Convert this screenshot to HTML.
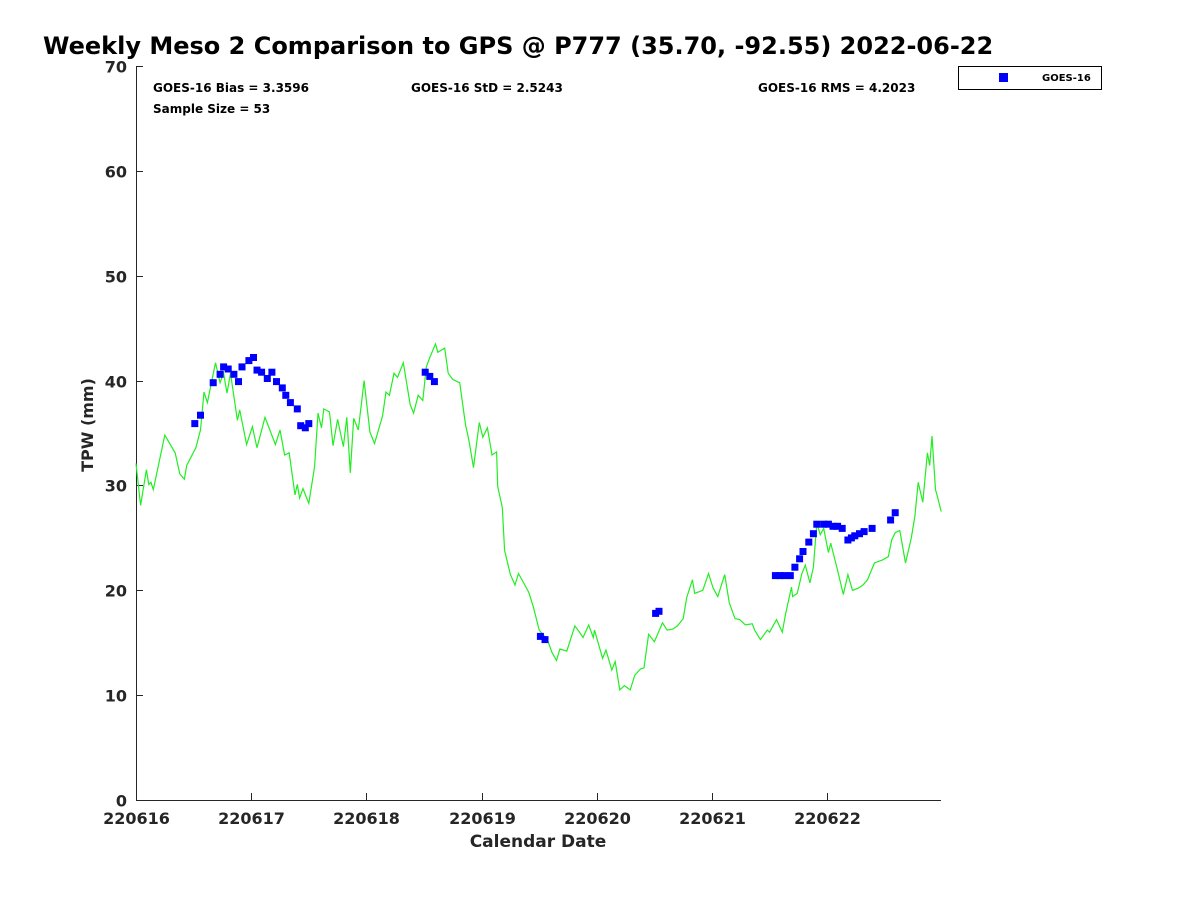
<!DOCTYPE html>
<html><head><meta charset="utf-8"><style>
body{margin:0;background:#fff;}
svg{display:block;font-family:"DejaVu Sans","Liberation Sans",sans-serif;}
</style></head><body>
<svg id="chart" width="1200" height="900" viewBox="0 0 1200 900">
<text x="43" y="54" font-size="24" font-weight="bold">Weekly Meso 2 Comparison to GPS @ P777 (35.70, -92.55) 2022-06-22</text>
<text x="153" y="92" font-size="12" font-weight="bold">GOES-16 Bias = 3.3596</text>
<text x="411" y="92" font-size="12" font-weight="bold">GOES-16 StD = 2.5243</text>
<text x="758" y="92" font-size="12" font-weight="bold">GOES-16 RMS = 4.2023</text>
<text x="153" y="113" font-size="12" font-weight="bold">Sample Size = 53</text>
<g>
<rect x="958.5" y="66.5" width="143" height="23" fill="#fff" stroke="#000" stroke-width="1"/>
<rect x="999" y="73" width="9" height="9" fill="#0000ff"/>
<text x="1042" y="81" font-size="10" font-weight="bold">GOES-16</text>
</g>
<text transform="translate(93,425) rotate(-90)" text-anchor="middle" font-size="16" font-weight="bold" fill="#262626">TPW (mm)</text>
<text x="538" y="847" text-anchor="middle" font-size="17" font-weight="bold" fill="#262626">Calendar Date</text>
<g id="axes"></g>
<g id="plot"></g>
</svg>
<script>
const xTickLabels=["220616","220617","220618","220619","220620","220621","220622"];
const yTickLabels=[0,10,20,30,40,50,60,70];
const gpsDays=[0,0.04,0.09,0.11,0.13,0.15,0.25,0.34,0.38,0.42,0.44,0.52,0.56,0.59,0.62,0.69,0.73,0.76,0.79,0.82,0.88,0.90,0.96,1.01,1.05,1.12,1.21,1.25,1.29,1.33,1.38,1.40,1.42,1.45,1.50,1.55,1.58,1.61,1.63,1.68,1.71,1.75,1.80,1.83,1.86,1.89,1.93,1.98,2.03,2.07,2.14,2.17,2.20,2.24,2.27,2.32,2.38,2.41,2.45,2.49,2.52,2.55,2.60,2.62,2.68,2.71,2.75,2.81,2.86,2.89,2.93,2.98,3.01,3.05,3.09,3.13,3.14,3.18,3.20,3.25,3.29,3.32,3.41,3.45,3.50,3.57,3.61,3.65,3.68,3.74,3.81,3.85,3.88,3.93,3.97,3.98,4.05,4.08,4.13,4.16,4.20,4.24,4.29,4.33,4.38,4.41,4.45,4.50,4.57,4.61,4.66,4.70,4.75,4.78,4.83,4.85,4.92,4.97,5.01,5.05,5.11,5.15,5.20,5.24,5.29,5.35,5.37,5.42,5.48,5.50,5.56,5.61,5.64,5.69,5.70,5.74,5.78,5.81,5.85,5.88,5.91,5.94,5.97,6.01,6.03,6.09,6.14,6.18,6.22,6.27,6.31,6.35,6.41,6.48,6.53,6.56,6.59,6.63,6.68,6.73,6.76,6.79,6.83,6.87,6.89,6.91,6.94,6.96,6.99];
const gpsTPW=[32.1,28.1,31.5,30.1,30.3,29.6,34.8,33.1,31.1,30.6,31.9,33.6,35.3,38.9,37.9,41.7,39.8,40.7,38.8,40.7,36.2,37.2,33.9,35.6,33.6,36.5,33.9,35.3,32.9,33.1,29.1,30.1,28.8,29.7,28.3,31.8,36.9,35.5,37.3,37.0,33.8,36.3,33.7,36.5,31.2,36.4,35.3,40.0,35.1,34.0,36.6,38.9,38.6,40.7,40.3,41.7,37.7,36.9,38.6,38.1,41.3,42.2,43.5,42.7,43.1,40.7,40.1,39.8,35.8,34.3,31.7,36.0,34.6,35.5,32.9,33.2,29.9,27.9,23.8,21.5,20.5,21.6,19.8,18.4,16.2,15.3,14.1,13.3,14.4,14.2,16.6,16.0,15.5,16.7,15.5,16.2,13.5,14.3,12.4,13.2,10.5,10.9,10.5,11.9,12.5,12.6,15.8,15.1,16.9,16.2,16.3,16.6,17.3,19.3,21.0,19.7,20.0,21.6,20.2,19.4,21.5,18.8,17.3,17.2,16.7,16.8,16.2,15.3,16.2,16.0,17.2,16.0,17.8,20.3,19.4,19.7,21.6,22.4,20.7,22.2,26.4,25.3,25.9,23.6,24.5,21.9,19.6,21.5,20.0,20.2,20.5,21.0,22.6,22.9,23.2,24.8,25.5,25.7,22.6,25.0,27.0,30.3,28.4,33.1,31.9,34.7,29.6,28.8,27.5];
const goesDays=[0.51,0.56,0.67,0.73,0.76,0.80,0.85,0.89,0.92,0.98,1.02,1.05,1.09,1.14,1.18,1.22,1.27,1.30,1.34,1.40,1.43,1.47,1.50,2.51,2.55,2.59,3.51,3.55,4.51,4.54,5.55,5.59,5.63,5.68,5.72,5.76,5.79,5.84,5.88,5.91,5.97,6.01,6.05,6.09,6.13,6.18,6.21,6.24,6.28,6.32,6.39,6.55,6.59];
const goesTPW=[35.9,36.7,39.8,40.6,41.3,41.1,40.6,39.9,41.3,41.9,42.2,41.0,40.8,40.2,40.8,39.9,39.3,38.6,37.9,37.3,35.7,35.5,35.9,40.8,40.4,39.9,15.6,15.3,17.8,18.0,21.4,21.4,21.4,21.4,22.2,23.0,23.7,24.6,25.4,26.3,26.3,26.3,26.1,26.1,25.9,24.8,25.0,25.2,25.4,25.6,25.9,26.7,27.4];

const X0=136,X1=941,Y0=800,Y1=66,YMAX=70;
const sx=d=>X0+d*115.2;
const sy=v=>Y0-(v/YMAX)*(Y0-Y1);
const NS="http://www.w3.org/2000/svg";
const axes=document.getElementById('axes'),plot=document.getElementById('plot');
function mk(tag,attrs,parent){const e=document.createElementNS(NS,tag);for(const k in attrs)e.setAttribute(k,attrs[k]);parent.appendChild(e);return e;}

const ax=mk('path',{d:`M${X0+0.5},${Y1} V${Y0+0.5} H${X1}`,stroke:'#262626','stroke-width':1,fill:'none'},axes);


xTickLabels.forEach((lab,i)=>{
  const x=Math.round(sx(i))+0.5;
  const t=mk('line',{x1:x,x2:x,y1:Y0,y2:Y0-7,stroke:'#262626'},axes);
  
  
  const tx=mk('text',{x:x,y:Y0+24,'text-anchor':'middle','font-size':16,'font-weight':'bold',fill:'#262626'},axes);
  tx.textContent=lab;
  
  
});
yTickLabels.forEach(v=>{
  const y=Math.round(sy(v))+0.5;
  const t=mk('line',{x1:X0,x2:X0+7,y1:y,y2:y,stroke:'#262626'},axes);
  
  
  const tx=mk('text',{x:X0-9,y:y+6,'text-anchor':'end','font-size':16,'font-weight':'bold',fill:'#262626'},axes);
  tx.textContent=v;
  
  
});
const pts=gpsDays.map((d,i)=>sx(d).toFixed(1)+','+sy(gpsTPW[i]).toFixed(1)).join(' ');
const line=mk('polyline',{points:pts,fill:'none',stroke:'#22ee22','stroke-width':1.2},plot);


goesDays.forEach((d,i)=>{
  const r=mk('rect',{x:(sx(d)-3.5).toFixed(1),y:(sy(goesTPW[i])-3.5).toFixed(1),width:7,height:7,fill:'#0000ff'},plot);
  
  
});
</script>
</body></html>
